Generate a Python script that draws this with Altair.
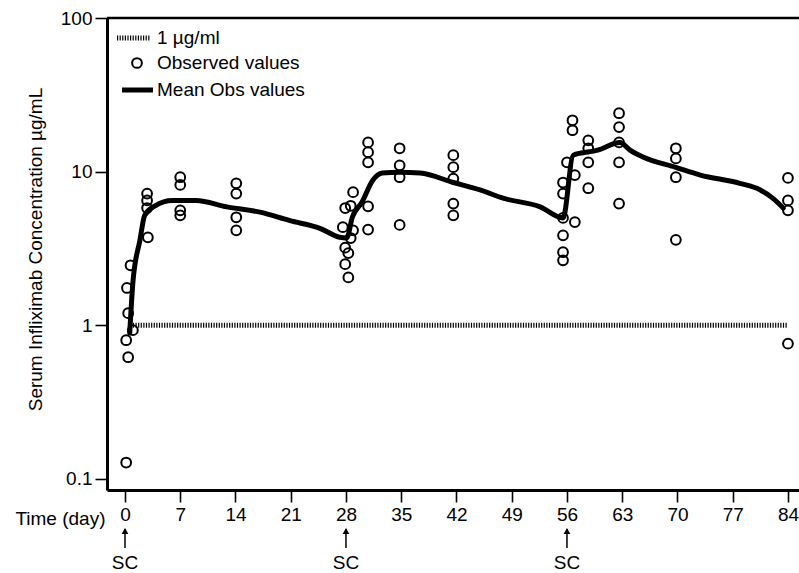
import altair as alt
import pandas as pd

# Observed values (day, concentration ug/mL)
obs_day = [0.7, 0.25, 0.4, 1.0, 0.15, 0.4, 0.15,
           2.8, 2.8, 2.8, 2.9,
           7.0, 7.0, 7.0, 7.0,
           14.1, 14.1, 14.1, 14.1,
           28.9, 27.9, 28.6, 30.8, 27.6, 28.9, 30.8, 27.9, 28.6, 28.3, 27.9, 28.3, 30.8, 30.8, 30.8,
           34.8, 34.8, 34.8, 34.8,
           41.6, 41.6, 41.6, 41.6, 41.6,
           56.7, 56.7, 56.0, 57.0, 55.5, 55.5, 58.7, 55.5, 57.0, 55.5, 55.5, 55.5, 58.7, 58.7, 58.7,
           62.6, 62.6, 62.6, 62.6, 62.6,
           69.8, 69.8, 69.8, 69.8,
           84.0, 84.0, 84.0, 84.0]
obs_val = [2.46, 1.75, 1.2, 0.93, 0.8, 0.62, 0.128,
           7.2, 6.5, 5.8, 3.74,
           9.2, 8.2, 5.6, 5.2,
           8.4, 7.2, 5.05, 4.15,
           7.35, 5.8, 6.0, 5.95, 4.35, 4.15, 4.2, 3.2, 3.7, 2.95, 2.5, 2.05, 15.5, 13.4, 11.5,
           14.2, 11.0, 9.2, 4.5,
           12.8, 10.7, 9.0, 6.2, 5.2,
           21.6, 18.6, 11.5, 9.5, 8.5, 7.2, 7.8, 5.0, 4.7, 3.85, 2.99, 2.65, 16.0, 14.2, 11.5,
           24.0, 19.5, 15.5, 11.5, 6.2,
           14.2, 12.2, 9.2, 3.6,
           9.1, 6.5, 5.6, 0.76]

# Mean observed curve
mean_day = [0.6, 1.0, 1.9, 2.5, 3.8, 6.0, 9.0, 12.9, 17.1, 20.9, 24.7, 27.2, 28.1,
            28.8, 30.0, 31.4, 32.6, 34.8, 37.4, 41.6, 45.0, 48.0, 52.6, 55.5,
            56.8, 59.9, 62.7, 64.0, 65.7, 69.7, 72.9, 77.9, 80.5, 82.1, 83.4]
mean_val = [0.89, 1.9, 3.6, 5.2, 6.0, 6.5, 6.5, 5.9, 5.45, 4.8, 4.28, 3.74, 3.7,
            5.05, 6.3, 8.8, 9.8, 9.9, 9.8, 8.5, 7.6, 6.7, 5.9, 5.0,
            12.8, 13.8, 15.5, 13.8, 12.4, 10.7, 9.5, 8.4, 7.6, 6.7, 5.8]

# 1 ug/ml threshold
thr_day = [1.0, 84.0]
thr_val = [1.0, 1.0]

# dosing days (SC)
dose_day = [0, 28, 56]
dose_label = ["SC", "SC", "SC"]

x_ticks = [0, 7, 14, 21, 28, 35, 42, 49, 56, 63, 70, 77, 84]
y_ticks = [0.1, 1, 10, 100]
legend_labels = ["1 \u00b5g/ml", "Observed values", "Mean Obs values"]

FONT = "Liberation Sans"
FS = 19

obs_df = pd.DataFrame({"day": obs_day, "conc": obs_val})
mean_df = pd.DataFrame({"day": mean_day, "conc": mean_val})
thr_df = pd.DataFrame({"day": thr_day, "conc": thr_val})
dose_df = pd.DataFrame({"day": dose_day, "label": dose_label})

xscale = alt.Scale(domain=[-2.28, 85.4], nice=False, zero=False)
yscale = alt.Scale(type="log", domain=[0.0848, 100], nice=False)

xaxis = alt.Axis(values=x_ticks, tickSize=12, tickWidth=1.6, domainWidth=3,
                 labelFontSize=FS, labelPadding=3, grid=False,
                 title="Time (day)", titleFontSize=FS, titleFontWeight="normal",
                 titleX=-2, titleY=28, titleAlign="right", titleBaseline="middle",
                 titleAnchor="start")
yaxis = alt.Axis(values=y_ticks, tickSize=12, tickWidth=1.6, domainWidth=3,
                 labelFontSize=FS, labelPadding=3, grid=False,
                 labelExpr="datum.value + ''",
                 title="Serum Infliximab Concentration  \u00b5g/mL",
                 titleFontSize=FS, titleFontWeight="normal",
                 titleX=-72, titleY=231, titleAngle=270,
                 titleAlign="center", titleBaseline="middle")

base_x = alt.X("day:Q", scale=xscale, axis=xaxis)
base_y = alt.Y("conc:Q", scale=yscale, axis=yaxis)

top_rule = alt.Chart(thr_df.head(1)).mark_rule(color="black", strokeWidth=2.5).encode(
    y=alt.datum(100, scale=yscale))

thr_line = alt.Chart(thr_df).mark_line(color="black", strokeWidth=5, strokeDash=[1.2, 1.4]).encode(
    x=base_x, y=base_y)

points = alt.Chart(obs_df).mark_point(shape="circle", filled=False, color="black",
                                      size=95, strokeWidth=2, opacity=1).encode(
    x=alt.X("day:Q", scale=xscale), y=alt.Y("conc:Q", scale=yscale))

mean_line = alt.Chart(mean_df).mark_line(color="black", strokeWidth=5, strokeJoin="round",
                                         strokeCap="round", interpolate="monotone").encode(
    x=alt.X("day:Q", scale=xscale), y=alt.Y("conc:Q", scale=yscale))

arrow_shaft = alt.Chart(dose_df).mark_rule(color="black", strokeWidth=1.5).encode(
    x=alt.X("day:Q", scale=xscale), y=alt.value(511), y2=alt.value(530))
arrow_head = alt.Chart(dose_df).mark_point(shape="triangle-up", filled=True, color="black",
                                           size=45, opacity=1).encode(
    x=alt.X("day:Q", scale=xscale), y=alt.value(513))
sc_text = alt.Chart(dose_df).mark_text(fontSize=FS, font=FONT, baseline="middle",
                                       align="center", color="black").encode(
    x=alt.X("day:Q", scale=xscale), y=alt.value(545), text="label:N")

leg_df = pd.DataFrame({"label": legend_labels})
leg_layers = []
row_y = [20, 45, 72]
for i, lab in enumerate(legend_labels):
    leg_layers.append(
        alt.Chart(leg_df.iloc[[i]]).mark_text(fontSize=FS, font=FONT, align="left",
                                              baseline="middle", color="black").encode(
            x=alt.value(50), y=alt.value(row_y[i]), text="label:N"))
leg_dot = alt.Chart(leg_df.iloc[[0]]).mark_rule(color="black", strokeWidth=5,
                                                strokeDash=[1.2, 1.4]).encode(
    x=alt.value(10), x2=alt.value(43), y=alt.value(row_y[0]))
leg_circ = alt.Chart(leg_df.iloc[[1]]).mark_point(shape="circle", filled=False, color="black",
                                                  size=95, strokeWidth=2, opacity=1).encode(
    x=alt.value(30), y=alt.value(row_y[1]))
leg_line = alt.Chart(leg_df.iloc[[2]]).mark_rule(color="black", strokeWidth=5).encode(
    x=alt.value(15), x2=alt.value(46), y=alt.value(row_y[2]))

chart = alt.layer(
    thr_line, top_rule, points, mean_line, arrow_shaft, arrow_head, sc_text,
    leg_dot, leg_circ, leg_line, *leg_layers
).properties(
    width=692, height=472,
    autosize=alt.AutoSizeParams(type="none"),
    padding={"left": 107, "top": 18, "right": 0, "bottom": 83},
    background="white",
).configure_view(stroke=None).configure_axis(
    labelFont=FONT, titleFont=FONT, labelColor="black", titleColor="black",
    domainColor="black", tickColor="black"
).configure_text(font=FONT)

chart.save("out.html", embed_options={"renderer": "svg", "actions": False})
